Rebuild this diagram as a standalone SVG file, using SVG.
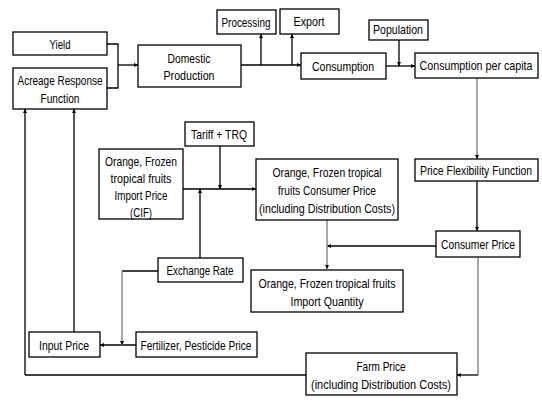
<svg xmlns="http://www.w3.org/2000/svg" width="542" height="401" viewBox="0 0 542 401">
<defs>
<marker id="ah" viewBox="0 0 6 6" refX="6" refY="3" markerWidth="4" markerHeight="4" markerUnits="userSpaceOnUse" orient="auto">
<path d="M0,0 L6,3 L0,6 z" fill="#000"/>
</marker>
</defs>
<style>
rect{fill:#fff;stroke:#000;stroke-width:1.3}
text{font-family:"Liberation Sans",Arial,sans-serif;font-size:13px;fill:#000;text-anchor:middle}
.c path{fill:none;stroke:#000;stroke-width:1.3}
.c path.g{stroke:#8a8a8a;stroke-width:1.5}
.c path.a{marker-end:url(#ah)}
</style>
<rect x="0" y="0" width="542" height="401" style="fill:#fff;stroke:none"/>
<g class="c" id="connectors">
<path d="M107,44 H118 V88 H107"/>
<path class="a" d="M118,65 H138"/>
<path class="a" d="M241,65 H301"/>
<path class="a" d="M261,65 V34"/>
<path class="a" d="M292,65 V34"/>
<path class="a" d="M386,66 H415"/>
<path class="a" d="M399,40 V66"/>
<path class="g a" d="M477,78 V159"/>
<path class="a" d="M477,181 V231"/>
<path class="a" d="M436,246 H327"/>
<path class="g a" d="M327,220 V269"/>
<path class="g" d="M478,257 V375"/>
<path class="a" d="M478,375 H457"/>
<path d="M306,375 H25"/>
<path class="a" d="M25,375 V109"/>
<path class="a" d="M74,332 V109"/>
<path class="a" d="M136,345 H100"/>
<path d="M158,271 H122"/>
<path class="g a" d="M122,271 V345"/>
<path class="a" d="M200,258 V189"/>
<path class="a" d="M183,189 H256"/>
<path class="a" d="M220,146 V189"/>
</g>
<g id="yield"><rect x="13" y="32" width="94" height="23"/><text x="60" y="49" textLength="21" lengthAdjust="spacingAndGlyphs">Yield</text></g>
<g id="acreage"><rect x="13" y="68" width="94" height="41"/><text x="60" y="85" textLength="85" lengthAdjust="spacingAndGlyphs">Acreage Response</text><text x="60" y="103" textLength="39" lengthAdjust="spacingAndGlyphs">Function</text></g>
<g id="domestic"><rect x="138" y="45" width="103" height="42"/><text x="189" y="63" textLength="43" lengthAdjust="spacingAndGlyphs">Domestic</text><text x="189" y="80" textLength="51" lengthAdjust="spacingAndGlyphs">Production</text></g>
<g id="processing"><rect x="217" y="10" width="59" height="24"/><text x="246" y="27" textLength="49" lengthAdjust="spacingAndGlyphs">Processing</text></g>
<g id="export"><rect x="280" y="9" width="59" height="25"/><text x="309" y="26" textLength="31" lengthAdjust="spacingAndGlyphs">Export</text></g>
<g id="consumption"><rect x="301" y="53" width="85" height="26"/><text x="343" y="71" textLength="62" lengthAdjust="spacingAndGlyphs">Consumption</text></g>
<g id="population"><rect x="369" y="20" width="59" height="20"/><text x="398" y="34" textLength="50" lengthAdjust="spacingAndGlyphs">Population</text></g>
<g id="cpc"><rect x="415" y="53" width="123" height="25"/><text transform="translate(476,70) scale(0.823,1)" x="0" y="0">Consumption per capita</text></g>
<g id="pff"><rect x="415" y="159" width="123" height="22"/><text transform="translate(476,175) scale(0.8,1)" x="0" y="0">Price Flexibility Function</text></g>
<g id="consumerprice"><rect x="436" y="231" width="84" height="26"/><text x="478" y="249" textLength="74" lengthAdjust="spacingAndGlyphs">Consumer Price</text></g>
<g id="tariff"><rect x="185" y="122" width="69" height="24"/><text x="219" y="139" textLength="56" lengthAdjust="spacingAndGlyphs">Tariff + TRQ</text></g>
<g id="importprice"><rect x="99" y="149" width="84" height="70"/><text x="141" y="166" textLength="72" lengthAdjust="spacingAndGlyphs">Orange, Frozen</text><text x="141" y="183" textLength="61" lengthAdjust="spacingAndGlyphs">tropical fruits</text><text x="141" y="200" textLength="53" lengthAdjust="spacingAndGlyphs">Import Price</text><text x="141" y="217" textLength="22" lengthAdjust="spacingAndGlyphs">(CIF)</text></g>
<g id="orangecp"><rect x="256" y="159" width="142" height="61"/><text x="327" y="177" textLength="109" lengthAdjust="spacingAndGlyphs">Orange, Frozen tropical</text><text x="327" y="195" textLength="98" lengthAdjust="spacingAndGlyphs">fruits Consumer Price</text><text x="327" y="213" textLength="136" lengthAdjust="spacingAndGlyphs">(including Distribution Costs)</text></g>
<g id="importqty"><rect x="251" y="270" width="152" height="42"/><text x="327" y="288" textLength="137" lengthAdjust="spacingAndGlyphs">Orange, Frozen tropical fruits</text><text x="327" y="306" textLength="73" lengthAdjust="spacingAndGlyphs">Import Quantity</text></g>
<g id="exchange"><rect x="158" y="258" width="85" height="24"/><text x="200" y="275" textLength="67" lengthAdjust="spacingAndGlyphs">Exchange Rate</text></g>
<g id="inputprice"><rect x="29" y="332" width="71" height="25"/><text x="64" y="350" textLength="50" lengthAdjust="spacingAndGlyphs">Input Price</text></g>
<g id="fertilizer"><rect x="136" y="332" width="121" height="25"/><text x="196" y="350" textLength="111" lengthAdjust="spacingAndGlyphs">Fertilizer, Pesticide Price</text></g>
<g id="farmprice"><rect x="306" y="353" width="151" height="42"/><text x="381" y="371" textLength="49" lengthAdjust="spacingAndGlyphs">Farm Price</text><text x="381" y="389" textLength="140" lengthAdjust="spacingAndGlyphs">(including Distribution Costs)</text></g>
</svg>
